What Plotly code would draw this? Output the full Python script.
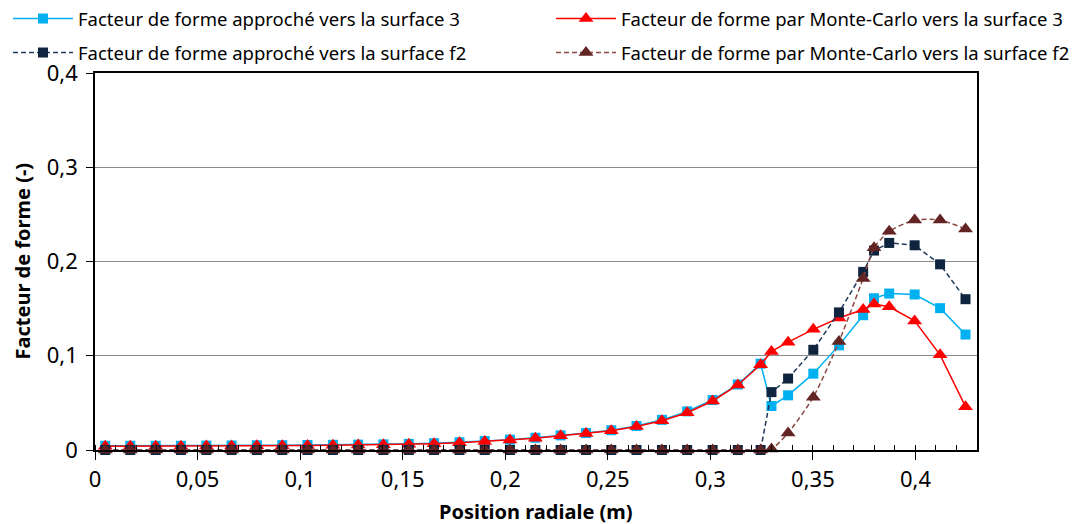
import plotly.graph_objects as go

# Radial positions (m)
position = [0.005, 0.0172, 0.0296, 0.0419, 0.0543, 0.0666, 0.0789, 0.0913, 0.1036, 0.116,
            0.1283, 0.1406, 0.153, 0.1653, 0.1777, 0.19, 0.2023, 0.2147, 0.227, 0.2394,
            0.2517, 0.264, 0.2764, 0.2887, 0.3011, 0.3134, 0.3245, 0.3298, 0.3379, 0.3502,
            0.3627, 0.3745, 0.3798, 0.3872, 0.3996, 0.412, 0.4244]

approche_s3 = [0.0045, 0.0045, 0.0045, 0.0045, 0.0047, 0.0048, 0.005, 0.0051, 0.0053, 0.0055,
               0.0057, 0.006, 0.0065, 0.0072, 0.0082, 0.0095, 0.011, 0.013, 0.0155, 0.018,
               0.021, 0.0255, 0.032, 0.041, 0.053, 0.0695, 0.0916, 0.0467, 0.058, 0.081,
               0.111, 0.143, 0.161, 0.166, 0.165, 0.1505, 0.1225]

montecarlo_s3 = [0.004, 0.004, 0.004, 0.004, 0.0042, 0.0043, 0.0045, 0.0046, 0.0048, 0.005,
                 0.0053, 0.0056, 0.006, 0.0067, 0.0076, 0.009, 0.0105, 0.0125, 0.015, 0.0175,
                 0.0205, 0.025, 0.031, 0.0395, 0.052, 0.069, 0.0905, 0.1046, 0.1144, 0.128,
                 0.140, 0.149, 0.155, 0.152, 0.137, 0.101, 0.046]

approche_f2 = [0, 0, 0, 0, 0, 0, 0, 0, 0, 0,
               0, 0, 0, 0, 0, 0, 0, 0, 0, 0,
               0, 0, 0, 0, 0, 0, 0, 0.0614, 0.0758, 0.1063,
               0.146, 0.189, 0.2116, 0.2197, 0.2172, 0.197, 0.16]

montecarlo_f2 = [0, 0, 0, 0, 0, 0, 0, 0, 0, 0,
                 0, 0, 0, 0, 0, 0, 0, 0, 0, 0,
                 0, 0, 0, 0, 0, 0, 0, 0.001, 0.018, 0.056,
                 0.115, 0.182, 0.2145, 0.232, 0.244, 0.244, 0.2345]

names = ["Facteur de forme approché vers la surface 3",
         "Facteur de forme par Monte-Carlo vers la surface 3",
         "Facteur de forme approché vers la surface f2",
         "Facteur de forme par Monte-Carlo vers la surface f2"]

x_ticks = [0, 0.05, 0.1, 0.15, 0.2, 0.25, 0.3, 0.35, 0.4]
x_tick_labels = ["0", "0,05", "0,1", "0,15", "0,2", "0,25", "0,3", "0,35", "0,4"]
y_ticks = [0, 0.1, 0.2, 0.3, 0.4]
y_tick_labels = ["0", "0,1", "0,2", "0,3", "0,4"]
x_title = "Position radiale (m)"
y_title = "Facteur de forme (-)"

FONT = "Noto Sans"
# page has an 8px body margin, so the figure is drawn at (8, 8)
W, H = 1075, 516
L, R, T, B = 87, 106, 65, 74
PW, PH = W - L - R, H - T - B

fig = go.Figure()
fig.add_trace(go.Scatter(x=position, y=approche_s3, name=names[0], mode="lines+markers",
                         line=dict(color="#00B0F0", width=1.5),
                         marker=dict(symbol="square", size=10, color="#00B0F0"),
                         cliponaxis=False, legend="legend"))
fig.add_trace(go.Scatter(x=position, y=montecarlo_s3, name=names[1], mode="lines+markers",
                         line=dict(color="#FF0000", width=1.5),
                         marker=dict(symbol="triangle-up", size=13, color="#FF0000"),
                         cliponaxis=False, legend="legend2"))
fig.add_trace(go.Scatter(x=position, y=approche_f2, name=names[2], mode="lines+markers",
                         line=dict(color="#1F3A5C", width=1.5, dash="5px,3px"),
                         marker=dict(symbol="square", size=10, color="#0F243E"),
                         cliponaxis=False, legend="legend3"))
fig.add_trace(go.Scatter(x=position, y=montecarlo_f2, name=names[3], mode="lines+markers",
                         line=dict(color="#8A4845", width=1.5, dash="5px,3px", shape="spline", smoothing=0.6),
                         marker=dict(symbol="triangle-up", size=13, color="#632523"),
                         cliponaxis=False, legend="legend4"))

leg_common = dict(xref="container", yref="container", xanchor="left", yanchor="middle",
                  font=dict(family=FONT, size=18.5, color="#000000"), itemwidth=60,
                  bgcolor="rgba(0,0,0,0)", borderwidth=0)
row1 = 1 - 11 / H
row2 = 1 - 45 / H
col1 = 0.0
col2 = 543 / W

fig.update_layout(
    width=W, height=H,
    margin=dict(l=L, r=R, t=T, b=B, autoexpand=False),
    paper_bgcolor="white", plot_bgcolor="white",
    font=dict(family=FONT, size=18, color="#000000"),
    showlegend=True,
    legend=dict(x=col1, y=row1, **leg_common),
    legend2=dict(x=col2, y=row1, **leg_common),
    legend3=dict(x=col1, y=row2, **leg_common),
    legend4=dict(x=col2, y=row2, **leg_common),
    xaxis=dict(range=[0, 0.43], tickmode="array", tickvals=x_ticks, ticktext=x_tick_labels,
               ticks="outside", ticklen=8, tickcolor="#000000", tickwidth=1, tickangle=0,
               ticklabelstandoff=1,
               showline=True, linecolor="#000000", linewidth=1.5, mirror=True,
               showgrid=False, zeroline=False,
               minor=dict(dtick=0.01, ticks="inside", ticklen=5, tickcolor="#000000", showgrid=False),
               tickfont=dict(family=FONT, size=22)),
    yaxis=dict(range=[0, 0.4], tickmode="array", tickvals=y_ticks, ticktext=y_tick_labels,
               ticks="outside", ticklen=7, tickcolor="#000000", ticklabelstandoff=4,
               showline=True, linecolor="#000000", linewidth=1.5, mirror=True,
               showgrid=True, gridcolor="#8C8C8C", gridwidth=1, zeroline=False,
               tickfont=dict(family=FONT, size=22)),
    annotations=[
        dict(text="<b>" + x_title + "</b>", xref="paper", yref="paper",
             x=0.5, y=-(503 - T - PH) / PH, xanchor="center", yanchor="middle",
             showarrow=False, font=dict(family=FONT, size=20)),
        dict(text="<b>" + y_title + "</b>", xref="paper", yref="paper",
             x=(14 - L) / PW, y=0.5, xanchor="center", yanchor="middle", textangle=-90,
             showarrow=False, font=dict(family=FONT, size=20)),
    ],
)

fig.write_html("out.html")
